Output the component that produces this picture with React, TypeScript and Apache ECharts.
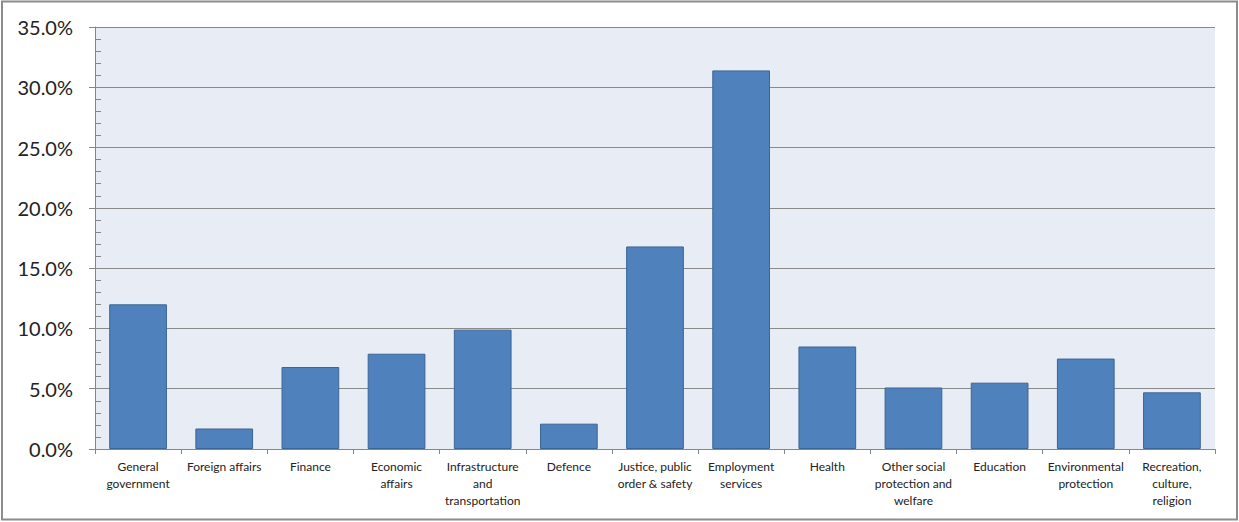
import React, { useEffect, useRef } from "react";
import * as echarts from "echarts";

const categories = [
  "General\ngovernment",
  "Foreign affairs",
  "Finance",
  "Economic\naffairs",
  "Infrastructure\nand\ntransportation",
  "Defence",
  "Justice, public\norder & safety",
  "Employment\nservices",
  "Health",
  "Other social\nprotection and\nwelfare",
  "Education",
  "Environmental\nprotection",
  "Recreation,\nculture,\nreligion",
];

const shares = [12.0, 1.7, 6.8, 7.9, 9.9, 2.1, 16.8, 31.4, 8.5, 5.1, 5.5, 7.5, 4.7];

const yMin = 0;
const yMax = 35;
const yStep = 5;

export default function App() {
  const ref = useRef<HTMLDivElement>(null);
  useEffect(() => {
    document.body.style.margin = "0";
    const chart = echarts.init(ref.current!, undefined, { renderer: "svg" });
    chart.setOption({
      animation: false,
      backgroundColor: "#ffffff",
      textStyle: { fontFamily: "Lato" },
      graphic: [
        {
          type: "rect",
          shape: { x: 2, y: 1.5, width: 1235, height: 518 },
          style: { fill: "none", stroke: "#8c8c8c", lineWidth: 2 },
          silent: true,
        },
        {
          type: "rect",
          z: -1,
          shape: { x: 95, y: 27, width: 1239 - 95 - 24, height: 522 - 27 - 73 },
          style: { fill: "#e8ecf4" },
          silent: true,
        },
      ],
      grid: { left: 95, right: 24, top: 27, bottom: 73, containLabel: false },
      xAxis: {
        type: "category",
        data: categories,
        boundaryGap: true,
        axisLine: { show: true, lineStyle: { color: "#868686", width: 1 } },
        axisTick: { show: true, interval: 0, length: 5, lineStyle: { color: "#868686" } },
        axisLabel: {
          interval: 0,
          margin: 9,
          fontSize: 12,
          lineHeight: 17,
          color: "#222",
          fontFamily: "Lato",
          align: "center",
        },
      },
      yAxis: {
        type: "value",
        min: yMin,
        max: yMax,
        interval: yStep,
        axisLine: { show: true, lineStyle: { color: "#868686", width: 1 } },
        axisTick: { show: true, length: 6, lineStyle: { color: "#868686" } },
        minorTick: { show: true, splitNumber: 5, length: -6, lineStyle: { color: "#868686" } },
        axisLabel: {
          margin: 22,
          fontSize: 20,
          color: "#222",
          fontFamily: "Lato",
          formatter: (v: number) => v.toFixed(1) + "%",
        },
        splitLine: { show: true, lineStyle: { color: "#8a8a8a", width: 1 } },
      },
      series: [
        {
          type: "bar",
          data: shares,
          barCategoryGap: "33%",
          itemStyle: { color: "#4f81bd", borderColor: "#3b6597", borderWidth: 1 },
        },
      ],
    });
    return () => chart.dispose();
  }, []);
  return <div ref={ref} style={{ width: 1239, height: 522 }} />;
}
